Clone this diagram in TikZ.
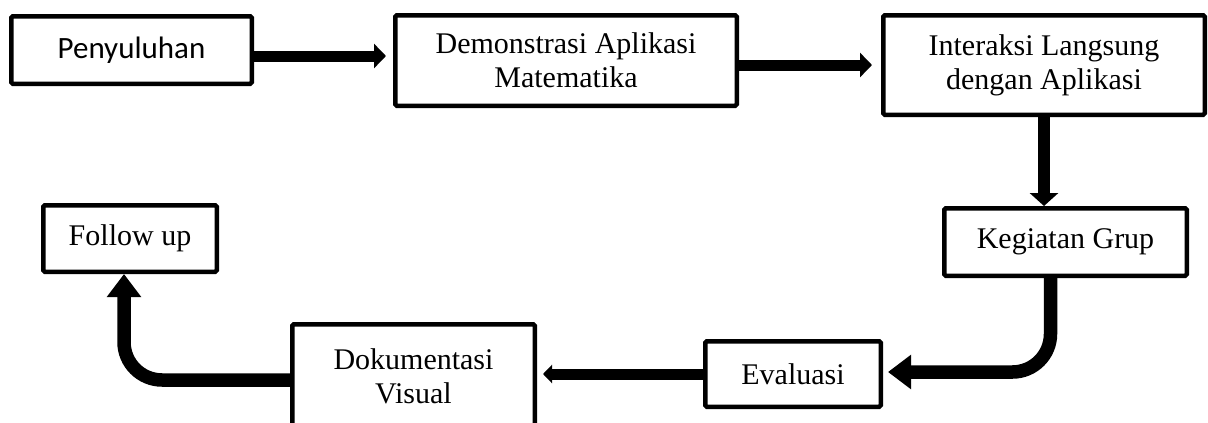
\documentclass[tikz,border=0pt]{standalone}
\usepackage{fontspec}
\setmainfont{Liberation Serif}
\newfontfamily\carlito{Carlito}
\usetikzlibrary{arrows.meta}
\tikzset{
	stage/.style={draw, line width=4.5pt, rounded corners=1.5pt, inner sep=0pt, align=center, font=\fontsize{30}{34}\selectfont},
	thinflow/.style={line width=11pt, -{Triangle[length=12pt,width=24pt]}},
	downflow/.style={line width=12pt, -{Triangle[length=13pt,width=28pt]}},
	bendflow/.style={line width=13.5pt, rounded corners=38pt, -{Triangle[length=23pt,width=33pt]}},
	backflow/.style={line width=11pt, -{Triangle[length=9pt,width=18pt]}}
}

\begin{document}
\begin{tikzpicture}[x=1pt, y=-1pt]
				\useasboundingbox (0, 0) rectangle (1208, 423);
				
				\node[stage, minimum width=240.5pt, minimum height=67.5pt, font=\fontsize{31}{34}\carlito] (penyuluhan) at (131.5, 50) {Penyuluhan};
				\node[stage, minimum width=341.5pt, minimum height=90.5pt] (demonstrasi) at (566, 60.5) {Demonstrasi Aplikasi\\Matematika};
				\node[stage, minimum width=321.5pt, minimum height=99.5pt] (interaksi) at (1044, 65) {Interaksi Langsung\\dengan Aplikasi};
				\node[stage, minimum width=242.5pt, minimum height=67.5pt] (grup) at (1065.5, 242) {Kegiatan Grup};
				\node[stage, minimum width=175.5pt, minimum height=65.5pt] (evaluasi) at (793, 374) {Evaluasi};
				\node[stage, minimum width=242.5pt, minimum height=103.5pt] (dokumentasi) at (413.5, 376) {Dokumentasi\\Visual};
				\node[stage, minimum width=173.5pt, minimum height=66.5pt] (followup) at (130, 238.5) {Follow up};
				
				\draw[thinflow, shorten >=7pt] ([yshift=-6pt]penyuluhan.east) -- ([yshift=-6pt]penyuluhan.east -| demonstrasi.west);
				\draw[thinflow, shorten >=9pt] ([yshift=-4.5pt]demonstrasi.east) -- ([yshift=-4.5pt]demonstrasi.east -| interaksi.west);
				\draw[downflow] (interaksi.south) -- (interaksi.south |- grup.north);
				\draw[bendflow, shorten >=5pt] ([xshift=-15pt]grup.south) |- ([yshift=2pt]evaluasi.east);
				\draw[backflow, shorten >=6pt] (evaluasi.west) -- (evaluasi.west -| dokumentasi.east);
				\draw[bendflow] ([yshift=-4pt]dokumentasi.west) -| ([xshift=-6pt]followup.south);
			\end{tikzpicture}
\end{document}
